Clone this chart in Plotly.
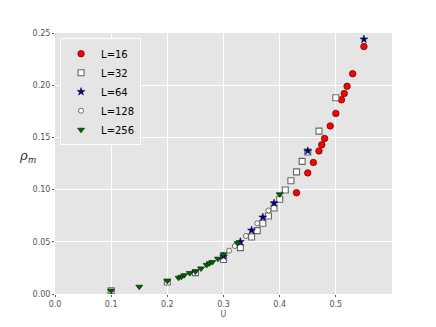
import plotly.graph_objects as go

# L=16
u_16 = [0.43, 0.45, 0.46, 0.47, 0.475, 0.48, 0.49, 0.50, 0.51, 0.515, 0.52, 0.53, 0.55]
rho_16 = [0.097, 0.116, 0.126, 0.137, 0.143, 0.149, 0.161, 0.173, 0.186, 0.192, 0.199, 0.211, 0.237]

# L=32
u_32 = [0.10, 0.20, 0.25, 0.30, 0.33, 0.35, 0.36, 0.37, 0.38, 0.39, 0.40, 0.41, 0.42, 0.43, 0.44, 0.45, 0.47, 0.50]
rho_32 = [0.003, 0.0115, 0.0205, 0.033, 0.0444, 0.0546, 0.0607, 0.0677, 0.0747, 0.0824, 0.0907, 0.0996, 0.1085, 0.117, 0.127, 0.136, 0.156, 0.188]

# L=64
u_64 = [0.30, 0.33, 0.35, 0.37, 0.39, 0.45, 0.55]
rho_64 = [0.0362, 0.050, 0.061, 0.0735, 0.087, 0.137, 0.244]

# L=128
u_128 = [0.31, 0.32, 0.34, 0.36, 0.38]
rho_128 = [0.0415, 0.046, 0.0556, 0.0677, 0.080]

# L=256
u_256 = [0.10, 0.15, 0.20, 0.22, 0.225, 0.23, 0.24, 0.25, 0.26, 0.27, 0.275, 0.28, 0.29, 0.30, 0.325, 0.40]
rho_256 = [0.003, 0.007, 0.0125, 0.0155, 0.0165, 0.018, 0.020, 0.0215, 0.0245, 0.0278, 0.0294, 0.0306, 0.0338, 0.038, 0.0488, 0.0955]

x_ticks = [0.0, 0.1, 0.2, 0.3, 0.4, 0.5]

err = 0.0008

series = [
    ("L=16", u_16, rho_16, dict(symbol="circle", size=6.5, color="red", line=dict(color="#550000", width=0.7)), "rgba(255,0,0,0.5)"),
    ("L=32", u_32, rho_32, dict(symbol="square", size=6, color="white", line=dict(color="#666666", width=1.1)), "rgba(255,255,255,0.6)"),
    ("L=64", u_64, rho_64, dict(symbol="star", size=6, color="#000080", line=dict(color="#000033", width=0.5)), "rgba(0,0,255,0.5)"),
    ("L=128", u_128, rho_128, dict(symbol="circle", size=5, color="white", line=dict(color="#333333", width=0.7)), "rgba(255,255,255,0.6)"),
    ("L=256", u_256, rho_256, dict(symbol="triangle-down", size=6, color="#006400", line=dict(color="#002200", width=0.7)), "rgba(0,128,0,0.5)"),
]

fig = go.Figure()
for name, u, rho, marker, ecol in series:
    fig.add_trace(go.Scatter(
        x=u, y=rho, mode="markers", name=name, marker=marker,
        error_y=dict(type="constant", value=err, color=ecol, thickness=1, width=2),
    ))

fig.update_layout(
    width=436, height=327,
    margin=dict(l=55, r=44, t=33, b=33),
    paper_bgcolor="white",
    plot_bgcolor="#E5E5E5",
    font=dict(family="DejaVu Sans", size=8, color="#555555"),
    showlegend=True,
    legend=dict(
        x=0.015, y=0.98, xanchor="left", yanchor="top",
        bgcolor="#E5E5E5", bordercolor="#FFFFFF", borderwidth=1,
        font=dict(size=10, color="black"),
        itemwidth=30, tracegroupgap=0,
    ),
    xaxis=dict(
        range=[0, 0.6], tickvals=x_ticks, tickformat=".1f",
        showgrid=True, gridcolor="white", gridwidth=1, automargin=False,
        zeroline=False, ticks="outside", ticklen=2, tickcolor="#555555",
        title=dict(text="U", font=dict(size=8, color="#555555"), standoff=3),
    ),
    yaxis=dict(
        range=[0, 0.25], dtick=0.05, tickformat=".2f", automargin=False,
        showgrid=True, gridcolor="white", gridwidth=1,
        zeroline=False, ticks="outside", ticklen=2, tickcolor="#555555",
    ),
    annotations=[dict(
        text="<i>ρ<sub>m</sub></i>", x=-0.05, y=0.525, xref="paper", yref="paper",
        showarrow=False, xanchor="right", yanchor="middle",
        font=dict(family="DejaVu Serif", size=13, color="#333333"),
    )],
)

fig.write_html("out.html", config={"displayModeBar": False},
               post_script="document.body.style.margin='0';")
